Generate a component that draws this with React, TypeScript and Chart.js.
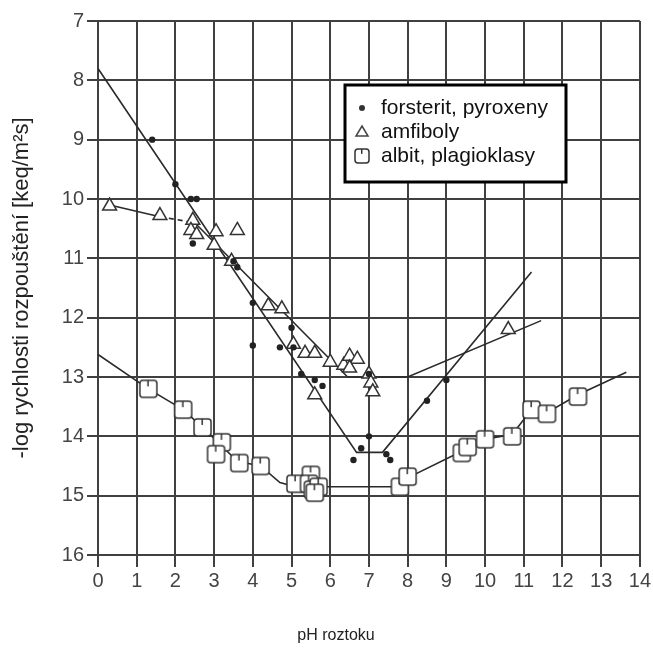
import { useEffect, useRef } from "react";
import { Chart, registerables } from "chart.js";
Chart.register(...registerables);

// ---- axes ----
const xTickValues = [0, 1, 2, 3, 4, 5, 6, 7, 8, 9, 10, 11, 12, 13, 14];
const yTickValues = [7, 8, 9, 10, 11, 12, 13, 14, 15, 16];
const xTitle = "pH roztoku";
const yTitle = "-log rychlosti rozpouštění [keq/m²s]";
const seriesNames = ["forsterit, pyroxeny", "amfiboly", "albit, plagioklasy"];

// ---- forsterit, pyroxeny (filled dots) ----
const forsteritX = [1.4, 2.0, 2.4, 2.55, 2.45, 3.5, 3.6, 4.0, 4.0, 4.7, 5.0, 5.05, 5.25, 5.6, 5.8, 7.0, 7.0, 6.6, 6.8, 7.45, 7.55, 8.5, 9.0];
const forsteritY = [9.0, 9.75, 10.0, 10.0, 10.75, 11.05, 11.15, 11.75, 12.47, 12.5, 12.17, 12.5, 12.95, 13.05, 13.15, 12.95, 14.0, 14.4, 14.2, 14.3, 14.4, 13.4, 13.05];
const forsteritLineX = [0, 6.68, 7.35, 11.2];
const forsteritLineY = [7.8, 14.27, 14.27, 11.23];

// ---- amfiboly (open triangles) ----
const amfibolX = [0.3, 1.6, 2.45, 2.4, 2.55, 3.05, 3.6, 3.0, 3.45, 4.4, 4.75, 5.05, 5.35, 5.6, 6.0, 6.35, 6.5, 6.7, 6.5, 7.0, 7.05, 7.1, 5.6, 10.6];
const amfibolY = [10.12, 10.28, 10.36, 10.53, 10.6, 10.55, 10.53, 10.78, 11.05, 11.8, 11.85, 12.45, 12.6, 12.6, 12.75, 12.8, 12.65, 12.7, 12.85, 12.95, 13.1, 13.25, 13.3, 12.2];
const amfibolLineX = [0.3, 1.6, 2.5, 6.45, 8.0, 11.45];
const amfibolLineY = [10.1, 10.3, 10.4, 13.0, 13.0, 12.05];

// ---- albit, plagioklasy (open squares) ----
const albitX = [1.3, 2.2, 2.7, 3.2, 3.05, 3.65, 4.2, 5.1, 5.5, 5.45, 5.55, 5.7, 5.6, 7.8, 8.0, 9.4, 9.55, 10.0, 10.7, 11.2, 11.6, 12.4];
const albitY = [13.2, 13.55, 13.85, 14.1, 14.3, 14.45, 14.5, 14.8, 14.65, 14.8, 14.9, 14.85, 14.95, 14.85, 14.68, 14.28, 14.18, 14.05, 14.0, 13.55, 13.62, 13.33];
const albitLineX = [0, 1.3, 2.2, 2.7, 3.1, 3.6, 4.2, 4.7, 5.1, 7.6, 8.0, 9.4, 10.0, 10.7, 11.2, 11.6, 12.4, 13.65];
const albitLineY = [12.62, 13.2, 13.55, 13.85, 14.1, 14.42, 14.5, 14.78, 14.85, 14.85, 14.7, 14.25, 14.05, 13.97, 13.55, 13.6, 13.3, 12.92];

const zip = (xs: number[], ys: number[]) => xs.map((x, i) => ({ x, y: ys[i] }));

const INK = "#2a2a2a";
const GRID = "#404040";
const FONT = "'Liberation Sans', Arial, sans-serif";

function makeSquare(size: number): HTMLCanvasElement {
  const c = document.createElement("canvas");
  c.width = size + 4;
  c.height = size + 4;
  const g = c.getContext("2d")!;
  const o = 2;
  const r = 3;
  g.beginPath();
  g.moveTo(o + r, o);
  g.lineTo(o + size - r, o);
  g.quadraticCurveTo(o + size, o, o + size, o + r);
  g.lineTo(o + size, o + size - r);
  g.quadraticCurveTo(o + size, o + size, o + size - r, o + size);
  g.lineTo(o + r, o + size);
  g.quadraticCurveTo(o, o + size, o, o + size - r);
  g.lineTo(o, o + r);
  g.quadraticCurveTo(o, o, o + r, o);
  g.closePath();
  g.fillStyle = "#fff";
  g.fill();
  g.lineWidth = 1.5;
  g.strokeStyle = "#333";
  g.stroke();
  g.beginPath();
  g.moveTo(o + size * 0.48, o);
  g.lineTo(o + size * 0.48, o + size * 0.35);
  g.lineWidth = 1.5;
  g.stroke();
  return c;
}

export default function App() {
  const ref = useRef<HTMLCanvasElement>(null);
  useEffect(() => {
    const square = makeSquare(17);
    const legendSquare = makeSquare(14);

    const legendPlugin = {
      id: "boxLegend",
      afterDraw(chart: any) {
        const ctx = chart.ctx as CanvasRenderingContext2D;
        ctx.save();
        // x axis title
        ctx.fillStyle = "#222";
        ctx.font = `16px ${FONT}`;
        ctx.textAlign = "center";
        ctx.textBaseline = "middle";
        ctx.fillText(xTitle, 336, 636);
        // legend box
        const bx = 345, by = 85, bw = 221, bh = 97;
        ctx.fillStyle = "#fff";
        ctx.fillRect(bx, by, bw, bh);
        ctx.lineWidth = 3;
        ctx.strokeStyle = "#000";
        ctx.strokeRect(bx, by, bw, bh);
        const rows = [108, 132, 156];
        const mx = 362;
        ctx.fillStyle = "#333";
        ctx.beginPath();
        ctx.arc(mx, rows[0], 3, 0, Math.PI * 2);
        ctx.fill();
        ctx.beginPath();
        ctx.moveTo(mx, rows[1] - 6);
        ctx.lineTo(mx + 6, rows[1] + 4);
        ctx.lineTo(mx - 6, rows[1] + 4);
        ctx.closePath();
        ctx.lineWidth = 1.5;
        ctx.strokeStyle = "#444";
        ctx.stroke();
        ctx.drawImage(legendSquare, mx - 9, rows[2] - 9);
        ctx.fillStyle = "#111";
        ctx.font = `21px ${FONT}`;
        ctx.textBaseline = "middle";
        ctx.textAlign = "left";
        seriesNames.forEach((n, i) => ctx.fillText(n, 381, rows[i]));
        ctx.restore();
      },
    };

    const lineDs = (data: any[], extra: any = {}) => ({
      type: "line" as const,
      data,
      showLine: true,
      borderColor: INK,
      borderWidth: 1.6,
      pointRadius: 0,
      fill: false,
      tension: 0,
      order: 2,
      ...extra,
    });

    const chart = new Chart(ref.current!, {
      type: "scatter",
      data: {
        datasets: [
          {
            label: seriesNames[0],
            data: zip(forsteritX, forsteritY),
            pointStyle: "circle",
            pointRadius: 3.2,
            backgroundColor: "#222",
            borderColor: "#222",
            borderWidth: 0,
            order: 0,
          },
          {
            label: seriesNames[1],
            data: zip(amfibolX, amfibolY),
            pointStyle: "triangle",
            pointRadius: 8,
            backgroundColor: "#fff",
            borderColor: "#333",
            borderWidth: 1.5,
            order: 0,
          },
          {
            label: seriesNames[2],
            data: zip(albitX, albitY),
            pointStyle: square,
            pointRadius: 9,
            order: 0,
          } as any,
          lineDs(zip(forsteritLineX, forsteritLineY)),
          lineDs(zip(amfibolLineX, amfibolLineY), {
            segment: { borderDash: (c: any) => (c.p0DataIndex === 1 ? [5, 4] : undefined) },
          }),
          lineDs(zip(albitLineX, albitLineY)),
        ] as any,
      },
      options: {
        animation: false,
        responsive: false,
        maintainAspectRatio: false,
        devicePixelRatio: 1,
        layout: { padding: { top: 21, right: 13, left: 0, bottom: 0 } },
        plugins: { legend: { display: false }, tooltip: { enabled: false } },
        scales: {
          x: {
            type: "linear",
            min: 0,
            max: 14,
            afterBuildTicks: (s: any) => {
              s.ticks = xTickValues.map((v) => ({ value: v }));
            },
            afterFit: (s: any) => {
              s.height = 95;
            },
            ticks: { color: "#444", font: { family: FONT, size: 20 }, padding: 2, maxRotation: 0 },
            grid: { color: GRID, lineWidth: 2, tickLength: 12, tickColor: GRID },
            border: { color: GRID, width: 2 },
            title: { display: false },
          },
          y: {
            type: "linear",
            reverse: true,
            min: 7,
            max: 16,
            afterBuildTicks: (s: any) => {
              s.ticks = yTickValues.map((v) => ({ value: v }));
            },
            afterFit: (s: any) => {
              s.width = 98;
            },
            ticks: { color: "#444", font: { family: FONT, size: 20 }, padding: 3 },
            grid: { color: GRID, lineWidth: 2, tickLength: 11, tickColor: GRID },
            border: { color: GRID, width: 2 },
            title: {
              display: true,
              text: yTitle,
              color: "#222",
              font: { family: FONT, size: 22 },
              padding: { top: 9, bottom: 0 },
            },
          },
        },
      },
      plugins: [legendPlugin],
    });
    return () => chart.destroy();
  }, []);

  return (
    <div style={{ position: "absolute", left: 0, top: 0, width: 653, height: 650, background: "#fff" }}>
      <canvas ref={ref} width={653} height={650} style={{ width: 653, height: 650, display: "block" }} />
    </div>
  );
}
